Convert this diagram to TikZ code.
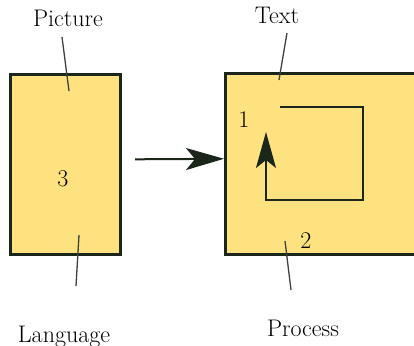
\documentclass[tikz,border=0pt]{standalone}
\usetikzlibrary{arrows.meta}
\definecolor{boxfill}{RGB}{255,226,128}
\definecolor{boxline}{RGB}{26,38,26}
\definecolor{tagline}{RGB}{60,66,60}
\begin{document}
\begin{tikzpicture}[x=1bp,y=-1bp,
  panel/.style={draw=boxline,fill=boxfill,line width=3bp,inner sep=0pt},
  caption/.style={anchor=base,inner sep=0pt,font=\fontsize{24bp}{28bp}\selectfont},
  numeral/.style={anchor=base,inner sep=0pt,font=\fontsize{24bp}{28bp}\selectfont},
  tag/.style={draw=tagline,line width=1.3bp},
  bigtip/.style={-{Stealth[length=38bp,width=22bp,inset=9bp]}},
  smalltip/.style={-{Stealth[length=36bp,width=20bp,inset=8bp]}}]
\useasboundingbox (0,0) rectangle (414,346);

% the two panels
\node[panel,minimum width=110.5bp,minimum height=179.5bp] (L) at (65.3,164.3) {};
\node[panel,minimum width=200bp,minimum height=180.5bp] (R) at (325.5,163.8) {};

% arrow from the left panel to the right one
\draw[boxline,line width=2bp,bigtip] ([xshift=13bp,yshift=5bp]L.east) -- ([yshift=5bp]R.west);

% the loop inside the right panel
\draw[boxline,line width=2bp,smalltip,line join=miter]
  (280,107) -- (363,107) -- (363,200) -- (266,200) -- (266,132);

% numbers
\node[numeral] (n1) at (244,127) {1};
\node[numeral] (n2) at (306,248) {2};
\node[numeral] (n3) at (63,186) {3};

% captions
\node[caption] (picture) at (68,26.5) {Picture};
\node[caption] (text) at (277,23.5) {Text};
\node[caption] (language) at (64,342) {Language};
\node[caption] (process) at (303,336) {Process};

% leader lines
\coordinate (pa) at (62,37);   \coordinate (pb) at (69,91);
\coordinate (ta) at (287,33);  \coordinate (tb) at (279,80);
\coordinate (la) at (76,286);  \coordinate (lb) at (79,235);
\coordinate (ra) at (291,290); \coordinate (rb) at (285,241);
\draw[tag] (pa) -- (pb);
\draw[tag] (ta) -- (tb);
\draw[tag] (la) -- (lb);
\draw[tag] (ra) -- (rb);
\end{tikzpicture}
\end{document}
